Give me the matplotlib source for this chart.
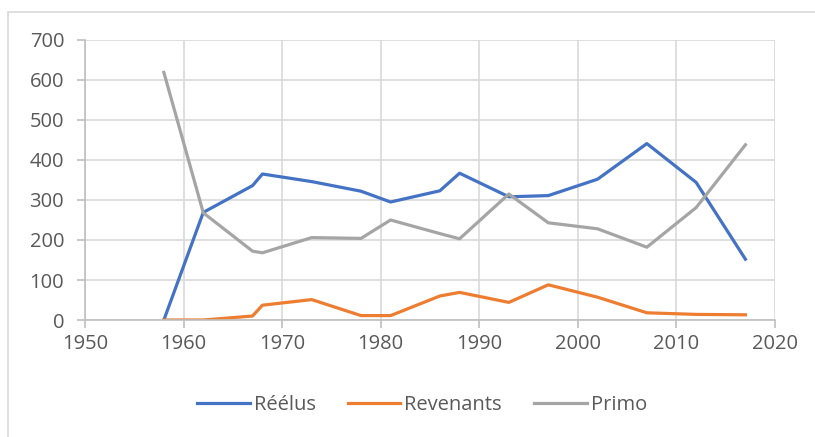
import matplotlib.pyplot as plt
from matplotlib.patches import Rectangle

# election years and number of deputies per category
years = [1958, 1962, 1967, 1968, 1973, 1978, 1981, 1986, 1988, 1993, 1997, 2002, 2007, 2012, 2017]
reelus = [0, 269, 336, 365, 346, 322, 295, 323, 367, 308, 311, 352, 441, 344, 152]
revenants = [0, 0, 10, 37, 51, 11, 11, 60, 69, 44, 88, 57, 18, 14, 13]
primo = [619, 268, 172, 168, 206, 204, 250, 216, 203, 315, 243, 228, 182, 281, 438]

plt.rcParams['font.family'] = ['Open Sans', 'DejaVu Sans']

fig = plt.figure(figsize=(8.15, 4.37), dpi=100)
ax = fig.add_axes([85 / 815, 1 - 320 / 437, 690 / 815, 280 / 437])

# chart area frame (cropped at right and bottom like the original)
fig.patches.append(Rectangle((8 / 815, -0.1), 1.2, 1 - 12 / 437 + 0.1,
                             transform=fig.transFigure, fill=False,
                             edgecolor='#d9d9d9', linewidth=1.2))

ax.plot(years, reelus, color='#4472C4', linewidth=2.3, label='Réélus')
ax.plot(years, revenants, color='#ED7D31', linewidth=2.3, label='Revenants')
ax.plot(years, primo, color='#A5A5A5', linewidth=2.3, label='Primo')

ax.set_xlim(1950, 2020)
ax.set_ylim(0, 700)
ax.set_xticks(range(1950, 2021, 10))
ax.set_yticks(range(0, 701, 100))

ax.grid(True, color='#d9d9d9', linewidth=1.2)
ax.set_axisbelow(True)
for s in ['top', 'right']:
    ax.spines[s].set_visible(False)
for s in ['left', 'bottom']:
    ax.spines[s].set_color('#bfbfbf')
    ax.spines[s].set_linewidth(1.2)

ax.tick_params(axis='both', colors='#bfbfbf', labelcolor='#595959',
               labelsize=14.5, length=6, width=1.2, direction='out')
ax.tick_params(axis='y', pad=9)
ax.tick_params(axis='x', pad=4)

fig.legend(loc='center', bbox_to_anchor=(0.518, 1 - 405 / 437), ncol=3,
           frameon=False, fontsize=14.5, labelcolor='#595959',
           handlelength=2.6, handletextpad=0.2, columnspacing=1.6)

fig.savefig('out.png', dpi=100)
